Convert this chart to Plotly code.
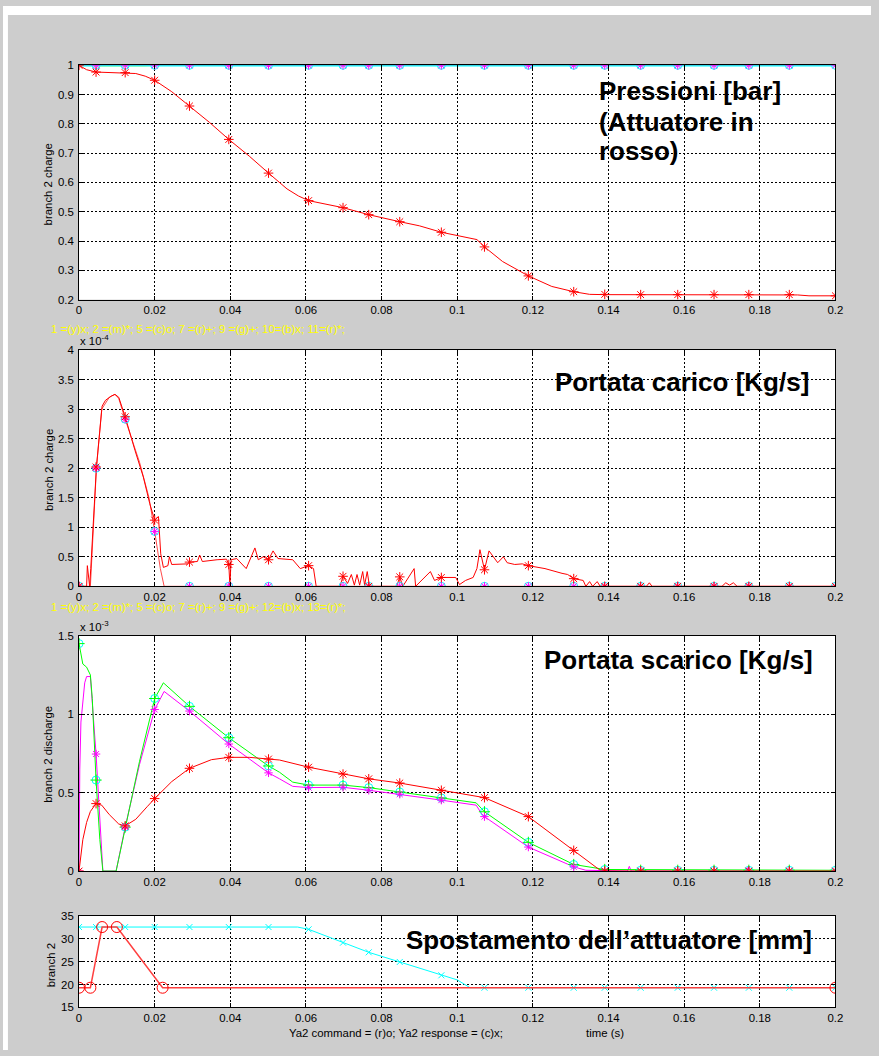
import plotly.graph_objects as go

W, H = 879, 1056

# ---------------- data ----------------
t_mark = [0.0, 0.0045, 0.0122, 0.0200, 0.0292, 0.0396, 0.0501, 0.0607, 0.0698, 0.0766, 0.0848,
          0.0958, 0.1072, 0.1188, 0.1308, 0.1390, 0.1485, 0.1583, 0.1679, 0.1771, 0.1878, 0.2000]

x_ticks = [0.0, 0.02, 0.04, 0.06, 0.08, 0.1, 0.12, 0.14, 0.16, 0.18, 0.2]
x_labels = ["0", "0.02", "0.04", "0.06", "0.08", "0.1", "0.12", "0.14", "0.16", "0.18", "0.2"]

# Panel 1: pressures [bar]
press_t = [0.0, 0.002, 0.0045, 0.008, 0.0122, 0.015, 0.0175, 0.02, 0.0245, 0.0292, 0.0345, 0.0396,
           0.045, 0.0501, 0.055, 0.058, 0.0607, 0.0698, 0.0766, 0.0848, 0.09, 0.0958, 0.1, 0.1052,
           0.1072, 0.112, 0.1188, 0.125, 0.1308, 0.135, 0.139, 0.16, 0.19, 0.193, 0.2]
press_red = [1.0, 0.985, 0.977, 0.976, 0.975, 0.972, 0.963, 0.949, 0.91, 0.861, 0.805, 0.747,
             0.69, 0.632, 0.578, 0.554, 0.538, 0.514, 0.49, 0.466, 0.452, 0.43, 0.418, 0.405,
             0.38, 0.33, 0.281, 0.245, 0.227, 0.218, 0.217, 0.217, 0.216, 0.213, 0.213]
press_red_mark = [1.0, 0.977, 0.975, 0.949, 0.861, 0.747, 0.632, 0.538, 0.514, 0.49, 0.466,
                  0.43, 0.38, 0.281, 0.227, 0.218, 0.217, 0.217, 0.217, 0.217, 0.217, 0.213]
press_ref_t = [0.0, 0.2]
press_ref = [1.0, 1.0]
press_y1_t = [0.0, 0.0052, 0.0174, 0.02, 0.2]
press_y1 = [1.0, 0.998, 0.998, 1.0, 1.0]
press_ref_mark = [1.0, 1.0, 1.0, 1.0, 1.0, 1.0, 1.0, 1.0, 1.0, 1.0, 1.0,
                  1.0, 1.0, 1.0, 1.0, 1.0, 1.0, 1.0, 1.0, 1.0, 1.0, 1.0]
press_yticks = [0.2, 0.3, 0.4, 0.5, 0.6, 0.7, 0.8, 0.9, 1.0]
press_ylabels = ["0.2", "0.3", "0.4", "0.5", "0.6", "0.7", "0.8", "0.9", "1"]

# Panel 2: charge flow [x1e-4 kg/s]
carico_a_t = [0.0, 0.0020, 0.0022, 0.0026, 0.0028, 0.0031, 0.0046, 0.0061, 0.0070, 0.0085,
              0.0095, 0.0105, 0.0122, 0.0148, 0.0170, 0.0187, 0.0200, 0.0204, 0.0210, 0.0216,
              0.0223, 0.0235, 0.0239, 0.0245, 0.0287, 0.0292, 0.0313, 0.0319, 0.0326, 0.0365,
              0.0390, 0.0396, 0.0399, 0.0402, 0.0417, 0.0442, 0.0452, 0.0465, 0.0474, 0.0487,
              0.0501, 0.0513, 0.0526, 0.0565, 0.0585, 0.0607, 0.0620, 0.0627, 0.0690, 0.0698,
              0.0710, 0.0720, 0.0728, 0.0735, 0.0742, 0.0750, 0.0755, 0.0762, 0.0768, 0.0840,
              0.0848, 0.0856, 0.0886, 0.0890, 0.0929, 0.0940, 0.0958, 0.0996, 0.1006, 0.1022,
              0.1042, 0.1052, 0.1060, 0.1067, 0.1072, 0.1084, 0.1107, 0.1122, 0.1132, 0.1152,
              0.1172, 0.1188, 0.1232, 0.1277, 0.1292, 0.1308, 0.1333, 0.1340, 0.1350, 0.1358,
              0.1370, 0.1378, 0.1500, 0.1508, 0.1515, 0.1700, 0.1710, 0.1720, 0.1730, 0.1740,
              0.2000]
carico_a = [0.0, 0.0, 0.35, 0.15, 0.0, 0.3, 2.02, 3.05, 3.15, 3.22,
            3.25, 3.2, 2.87, 2.3, 1.85, 1.4, 1.12, 1.15, 1.18, 0.55,
            0.32, 0.35, 0.5, 0.37, 0.38, 0.41, 0.42, 0.53, 0.42, 0.45,
            0.46, 0.37, 0.0, 0.45, 0.47, 0.3, 0.45, 0.65, 0.45, 0.5,
            0.45, 0.6, 0.47, 0.45, 0.3, 0.35, 0.3, 0.0, 0.0, 0.17,
            0.05, 0.2, 0.02, 0.2, 0.02, 0.25, 0.02, 0.25, 0.0, 0.0,
            0.16, 0.0, 0.3, 0.0, 0.25, 0.1, 0.15, 0.15, 0.03, 0.1,
            0.15, 0.3, 0.62, 0.4, 0.28, 0.6, 0.4, 0.5, 0.4, 0.37,
            0.38, 0.35, 0.3, 0.22, 0.2, 0.13, 0.1, 0.0, 0.08, 0.0,
            0.08, 0.0, 0.0, 0.06, 0.0, 0.0, 0.06, 0.02, 0.06, 0.0,
            0.0]
carico_a_mark = [0.0, 2.02, 2.87, 1.12, 0.41, 0.37, 0.45, 0.35, 0.17, 0.0, 0.16,
                 0.15, 0.28, 0.35, 0.13, 0.0, 0.0, 0.0, 0.0, 0.0, 0.0, 0.0]
carico_b_t = [0.0, 0.0030, 0.0046, 0.0060, 0.0080, 0.0095, 0.0105, 0.0122, 0.0160, 0.0185,
              0.0200, 0.0215, 0.0225, 0.2000]
carico_b = [0.0, 0.0, 2.0, 3.0, 3.2, 3.25, 3.18, 2.83, 2.1, 1.5,
            0.93, 0.3, 0.0, 0.0]
carico_b_mark = [0.0, 2.0, 2.83, 0.93, 0.0, 0.0, 0.0, 0.0, 0.0, 0.0, 0.0,
                 0.0, 0.0, 0.0, 0.0, 0.0, 0.0, 0.0, 0.0, 0.0, 0.0, 0.0]
carico_yticks = [0, 0.5, 1, 1.5, 2, 2.5, 3, 3.5, 4]
carico_ylabels = ["0", "0.5", "1", "1.5", "2", "2.5", "3", "3.5", "4"]

# Panel 3: discharge flow [x1e-3 kg/s]
scarico_g_t = [0.0, 0.001, 0.002, 0.003, 0.0035, 0.0045, 0.0055, 0.0063, 0.0098, 0.0122,
               0.016, 0.02, 0.0223, 0.0292, 0.0396, 0.0501, 0.053, 0.0565, 0.0607, 0.0698,
               0.0766, 0.0848, 0.0958, 0.105, 0.1072, 0.1188, 0.1308, 0.139, 0.2]
scarico_g = [1.45, 1.32, 1.3, 1.25, 1.1, 0.58, 0.2, 0.0, 0.0, 0.28,
             0.7, 1.1, 1.2, 1.05, 0.85, 0.67, 0.63, 0.567, 0.548, 0.548,
             0.532, 0.504, 0.466, 0.435, 0.378, 0.183, 0.042, 0.01, 0.005]
scarico_g_mark = [1.45, 0.58, 0.28, 1.1, 1.05, 0.85, 0.67, 0.548, 0.548, 0.532, 0.504,
                  0.466, 0.378, 0.183, 0.042, 0.01, 0.005, 0.005, 0.005, 0.005, 0.005, 0.005]
scarico_m_t = [0.0, 0.0002, 0.0005, 0.001, 0.0015, 0.002, 0.003, 0.0045, 0.0055, 0.0063,
               0.0098, 0.0122, 0.016, 0.02, 0.0225, 0.0292, 0.0396, 0.0501, 0.053, 0.0565,
               0.0607, 0.0698, 0.0766, 0.0848, 0.0958, 0.105, 0.1065, 0.1072, 0.1188, 0.1308,
               0.134, 0.145, 0.1455, 0.146, 0.1765, 0.177, 0.1775, 0.2]
scarico_m = [0.0, 0.65, 0.95, 1.1, 1.2, 1.24, 1.24, 0.746, 0.3, 0.0,
             0.0, 0.28, 0.68, 1.03, 1.145, 1.02, 0.81, 0.626, 0.588, 0.54,
             0.532, 0.534, 0.515, 0.49, 0.452, 0.42, 0.363, 0.347, 0.153, 0.027,
             0.005, 0.0, 0.03, 0.0, 0.0, 0.03, 0.0, 0.0]
scarico_m_mark = [0.0, 0.746, 0.28, 1.03, 1.02, 0.81, 0.626, 0.532, 0.534, 0.515, 0.49,
                  0.452, 0.347, 0.153, 0.027, 0.0, 0.0, 0.0, 0.0, 0.0, 0.0, 0.0]
scarico_r_t = [0.0, 0.001, 0.002, 0.003, 0.0045, 0.006, 0.008, 0.0105, 0.0122, 0.015,
               0.018, 0.02, 0.0245, 0.0292, 0.035, 0.0396, 0.045, 0.0501, 0.053, 0.0607,
               0.0698, 0.0766, 0.0848, 0.0958, 0.1072, 0.1188, 0.1308, 0.1375, 0.14, 0.2]
scarico_r = [0.0, 0.2, 0.31, 0.38, 0.43, 0.42, 0.36, 0.3, 0.288, 0.33,
             0.41, 0.462, 0.57, 0.655, 0.71, 0.725, 0.725, 0.714, 0.708, 0.662,
             0.618, 0.588, 0.561, 0.515, 0.468, 0.347, 0.132, 0.01, 0.0, 0.0]
scarico_r_mark = [0.0, 0.43, 0.288, 0.462, 0.655, 0.725, 0.714, 0.662, 0.618, 0.588, 0.561,
                  0.515, 0.468, 0.347, 0.132, 0.0, 0.0, 0.0, 0.0, 0.0, 0.0, 0.0]
scarico_yticks = [0, 0.5, 1, 1.5]
scarico_ylabels = ["0", "0.5", "1", "1.5"]

# Panel 4: actuator displacement [mm]
cmd_t = [0.0, 0.003, 0.0061, 0.0100, 0.0221, 0.2]
cmd = [19.3, 19.3, 32.5, 32.5, 19.3, 19.3]
resp_t = [0.0, 0.0578, 0.0607, 0.0698, 0.0766, 0.0848, 0.0958, 0.1, 0.1034, 0.2]
resp = [32.5, 32.5, 32.0, 29.1, 27.0, 24.9, 22.0, 21.0, 19.3, 19.3]
resp_mark = [32.5, 32.5, 32.5, 32.5, 32.5, 32.5, 32.5, 32.0, 29.1, 27.0, 24.9,
             22.0, 19.3, 19.3, 19.3, 19.3, 19.3, 19.3, 19.3, 19.3, 19.3, 19.3]
spost_yticks = [15, 20, 25, 30, 35]
spost_ylabels = ["15", "20", "25", "30", "35"]

# ---------------- figure ----------------
RED, GREEN, CYAN, MAG, YEL = "#ff0000", "#00ff00", "#00ffff", "#ff00ff", "#ffff00"
FONT = "Liberation Sans, Arial, Helvetica, sans-serif"
SMALL = 11.4

fig = go.Figure()


def line(x, y, color, ax, width=1.0):
    fig.add_trace(go.Scatter(x=x, y=y, mode="lines", line=dict(color=color, width=width),
                             xaxis="x" + ax, yaxis="y" + ax, showlegend=False, hoverinfo="skip"))


def marks(x, y, color, symbol, ax, size=8, lw=1.0):
    fig.add_trace(go.Scatter(x=x, y=y, mode="markers",
                             marker=dict(symbol=symbol, size=size, color=color,
                                         line=dict(color=color, width=lw)),
                             xaxis="x" + ax, yaxis="y" + ax, showlegend=False, hoverinfo="skip"))


# panel 1
line(press_y1_t, press_y1, YEL, "")
line(press_ref_t, press_ref, GREEN, "")
line(press_ref_t, press_ref, MAG, "")
line(press_ref_t, press_ref, CYAN, "", width=2.5)
line(press_t, press_red, RED, "")
marks(t_mark[1:], press_ref_mark[1:], CYAN, "circle-open", "", size=8)
marks(t_mark[1:], press_ref_mark[1:], MAG, "asterisk-open", "", size=7)
marks(t_mark, press_red_mark, RED, "asterisk-open", "", size=8)

# panel 2
line(carico_b_t, carico_b, "#ff4a4a", "2")
line(carico_a_t, carico_a, RED, "2")
marks(t_mark, carico_b_mark, CYAN, "circle-open", "2", size=8)
marks(t_mark, carico_b_mark, MAG, "asterisk-open", "2", size=7)
marks(t_mark, carico_a_mark, RED, "asterisk-open", "2", size=8)

# panel 3
line(scarico_m_t, scarico_m, MAG, "3")
line(scarico_g_t, scarico_g, GREEN, "3")
line(scarico_r_t, scarico_r, RED, "3")
marks(t_mark, scarico_g_mark, CYAN, "circle-open", "3", size=8)
marks(t_mark, scarico_g_mark, GREEN, "cross-thin-open", "3", size=8)
marks(t_mark, scarico_m_mark, MAG, "asterisk-open", "3", size=7)
marks(t_mark, scarico_r_mark, RED, "asterisk-open", "3", size=8)

# panel 4
line(resp_t, resp, CYAN, "4")
marks(t_mark, resp_mark, CYAN, "x-thin-open", "4", size=6)
line(cmd_t, cmd, "#ff4040", "4", width=1.5)
marks(cmd_t, cmd, RED, "circle-open", "4", size=11)


def px(x):
    return x / W


def py(y):
    return 1 - y / H


X0, X1 = 77, 843
panels = [
    ("", 60, 297, [0.2, 1.0], press_yticks, press_ylabels),
    ("2", 348, 587, [0, 4], carico_yticks, carico_ylabels),
    ("3", 637, 875, [0, 1.5], scarico_yticks, scarico_ylabels),
    ("4", 920, 1013, [15, 35], spost_yticks, spost_ylabels),
]

tickfont = dict(family=FONT, size=SMALL, color="black")
layout = dict(
    width=W, height=H, autosize=False,
    margin=dict(l=0, r=0, t=0, b=0),
    paper_bgcolor="#cdcdcd", plot_bgcolor="white",
    showlegend=False,
)
for ax, top, bot, yr, yt, yl in panels:
    common = dict(showgrid=True, gridcolor="black", griddash="2px,2px", gridwidth=1,
                  showline=True, linecolor="black", linewidth=1, mirror="ticks",
                  ticks="inside", ticklen=4, tickcolor="black", zeroline=False,
                  tickfont=tickfont, fixedrange=True)
    layout["xaxis" + ax] = dict(domain=[px(X0), px(X1)], range=[0, 0.2], anchor="y" + ax,
                                tickvals=x_ticks, ticktext=x_labels, **common)
    layout["yaxis" + ax] = dict(domain=[py(bot), py(top)], range=yr, anchor="x" + ax,
                                tickvals=yt, ticktext=yl, ticklabelstandoff=2, **common)
fig.update_layout(**layout)

# white frame strips around grey figure area
fig.add_shape(type="rect", xref="paper", yref="paper", x0=0, x1=1, y0=py(9), y1=1,
              fillcolor="white", line=dict(width=0), layer="below")
fig.add_shape(type="rect", xref="paper", yref="paper", x0=0, x1=px(5), y0=0, y1=1,
              fillcolor="white", line=dict(width=0), layer="below")

ann = []


def text(s, x, y, size=SMALL, color="black", xanchor="left", yanchor="middle", angle=0, bold=False):
    ann.append(dict(text=("<b>%s</b>" % s) if bold else s, x=px(x), y=py(y), xref="paper",
                    yref="paper", showarrow=False, xanchor=xanchor, yanchor=yanchor,
                    textangle=angle, font=dict(family=FONT, size=size, color=color)))


# big titles
text("Pressioni [bar]", 602, 86, size=26, bold=True)
text("(Attuatore in", 602, 117, size=26, bold=True)
text("rosso)", 602, 147, size=26, bold=True)
text("Portata carico [Kg/s]", 818, 380, size=26, bold=True, xanchor="right")
text("Portata scarico [Kg/s]", 822, 662, size=26, bold=True, xanchor="right")
text("Spostamento dell’attuatore [mm]", 821, 945, size=26, bold=True, xanchor="right")

# yellow legend lines
text("1 =(y)x; 2 =(m)*; 5 =(c)o; 7 =(r)+; 9 =(g)+; 10=(b)x; 11=(r)*;", 47, 327, color=YEL)
text("1 =(y)x; 2 =(m)*; 5 =(c)o; 7 =(r)+; 9 =(g)+; 12=(b)x; 13=(r)*;", 47, 608, color=YEL)

# exponents
text("x 10<sup>-4</sup>", 76, 338)
text("x 10<sup>-3</sup>", 76, 627)

# y axis titles
text("branch 2 charge", 46, 180, angle=-90, xanchor="center")
text("branch 2 charge", 46, 469, angle=-90, xanchor="center")
text("branch 2 discharge", 46, 757, angle=-90, xanchor="center")
text("branch 2", 49, 970, angle=-90, xanchor="center")

# bottom labels
text("Ya2 command = (r)o; Ya2 response = (c)x;", 288, 1039)
text("time (s)", 588, 1039)

fig.update_layout(annotations=ann)

PAGE_FIX = (
    "document.documentElement.style.margin='0';"
    "document.documentElement.style.overflow='hidden';"
    "document.body.style.margin='0';"
    "document.body.style.overflow='hidden';"
    "var d=document.getElementsByClassName('plotly-graph-div')[0];"
    "d.style.position='fixed';d.style.left='0px';d.style.top='0px';"
)
fig.write_html("out.html", config={"displayModeBar": False}, post_script=PAGE_FIX)
